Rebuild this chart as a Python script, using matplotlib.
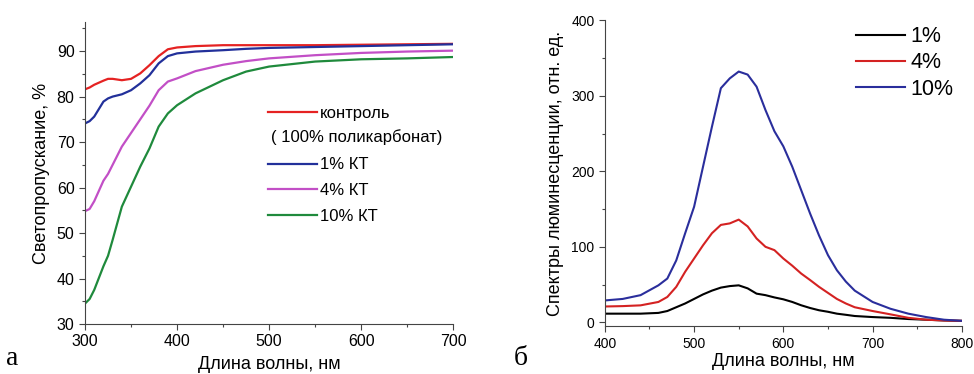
import matplotlib.pyplot as plt
from matplotlib.lines import Line2D
from matplotlib.ticker import MultipleLocator

plt.rcParams['font.family'] = ['Liberation Sans', 'DejaVu Sans']

# --- panel a: transmission ---
wl_a = [300, 305, 310, 320, 325, 330, 340, 350, 360, 370, 380, 390, 400, 420, 450, 475, 500, 550, 600, 650, 700]
control = [81.6, 82.0, 82.6, 83.5, 83.9, 83.9, 83.6, 83.9, 85.1, 86.9, 88.9, 90.4, 90.8, 91.1, 91.3, 91.3, 91.3, 91.3, 91.4, 91.5, 91.6]
kt1 = [74.1, 74.6, 75.6, 78.9, 79.6, 80.0, 80.5, 81.4, 82.9, 84.7, 87.3, 88.9, 89.5, 89.9, 90.2, 90.5, 90.7, 90.9, 91.1, 91.3, 91.5]
kt4 = [54.8, 55.3, 57.0, 61.5, 63.0, 65.0, 69.0, 72.0, 75.0, 78.0, 81.4, 83.3, 84.0, 85.6, 87.0, 87.8, 88.4, 89.1, 89.6, 89.9, 90.1]
kt10 = [34.5, 35.5, 37.5, 42.7, 45.0, 48.5, 55.8, 60.2, 64.6, 68.6, 73.4, 76.3, 78.1, 80.7, 83.6, 85.5, 86.6, 87.7, 88.2, 88.4, 88.7]

# --- panel b: luminescence ---
wl_b = [400, 420, 440, 460, 470, 480, 490, 500, 510, 520, 530, 540, 550, 560, 570, 580, 590, 600,
        610, 620, 630, 640, 650, 660, 670, 680, 700, 720, 740, 760, 780, 800]
lum1 = [11.5, 11.5, 11.5, 12.5, 15, 20, 25, 31, 37, 42, 46, 48, 49, 45, 38, 36, 33, 30.5,
        27, 22.6, 19, 16, 14, 11.5, 10, 8.4, 7, 6, 4.4, 3.5, 2.5, 2]
lum4 = [21, 21.5, 22.5, 27, 33.6, 47, 67, 84.5, 102, 118, 129, 131, 136, 127, 111, 100, 95.6, 84.5,
        75, 64.6, 56, 47, 39, 31, 25, 20, 15, 10.6, 6, 3.5, 2.5, 2]
lum10 = [29, 31, 36, 49, 58, 82, 118, 153, 206, 259, 310, 323, 332, 328, 312, 281, 253, 233,
         206, 175, 144, 115, 89, 69, 54, 42, 27, 18, 11.5, 7, 3.5, 2]

fig = plt.figure(figsize=(9.74, 3.74), dpi=100)

ax1 = fig.add_axes([0.0873, 0.1337, 0.378, 0.8075])
ax1.plot(wl_a, control, color='#e52222', lw=1.6)
ax1.plot(wl_a, kt1, color='#22309a', lw=1.6)
ax1.plot(wl_a, kt4, color='#c24fc6', lw=1.6)
ax1.plot(wl_a, kt10, color='#1f8a3c', lw=1.6)
ax1.set_xlim(300, 700)
ax1.set_ylim(30, 96.4)
ax1.xaxis.set_major_locator(MultipleLocator(100))
ax1.xaxis.set_minor_locator(MultipleLocator(50))
ax1.yaxis.set_major_locator(MultipleLocator(10))
ax1.yaxis.set_minor_locator(MultipleLocator(5))
ax1.set_xlabel('Длина волны, нм', fontsize=13, labelpad=5)
ax1.set_ylabel('Светопропускание, %', fontsize=13, labelpad=5)
ax1.tick_params(labelsize=11.5, length=4, width=0.8, color='#444444')
ax1.tick_params(which='minor', length=2, width=0.8, color='#444444')

handles = [Line2D([], [], color='#e52222', lw=1.6),
           Line2D([], [], color='none'),
           Line2D([], [], color='#22309a', lw=1.6),
           Line2D([], [], color='#c24fc6', lw=1.6),
           Line2D([], [], color='#1f8a3c', lw=1.6)]
labels = ['контроль', ' ', '1% КТ', '4% КТ', '10% КТ']
ax1.legend(handles, labels, loc='upper left', bbox_to_anchor=(0.475, 0.75), frameon=False,
           fontsize=12, handlelength=2.9, handletextpad=0.2, labelspacing=0.65, borderpad=0)
ax1.text(0.505, 0.62, '( 100% поликарбонат)', transform=ax1.transAxes, fontsize=12, va='center')

ax2 = fig.add_axes([0.621, 0.128, 0.3665, 0.818])
ax2.plot(wl_b, lum1, color='black', lw=1.5, label='1%')
ax2.plot(wl_b, lum4, color='#d42222', lw=1.5, label='4%')
ax2.plot(wl_b, lum10, color='#2a2e9c', lw=1.5, label='10%')
ax2.set_xlim(400, 800)
ax2.set_ylim(-5, 400)
ax2.xaxis.set_major_locator(MultipleLocator(100))
ax2.xaxis.set_minor_locator(MultipleLocator(50))
ax2.yaxis.set_major_locator(MultipleLocator(100))
ax2.yaxis.set_minor_locator(MultipleLocator(50))
ax2.set_xlabel('Длина волны, нм', fontsize=13, labelpad=2)
ax2.set_ylabel('Спектры люминесценции, отн. ед.', fontsize=13, labelpad=5)
ax2.tick_params(labelsize=10, length=4, width=0.8, color='#444444')
ax2.tick_params(which='minor', length=2, width=0.8, color='#444444')
ax2.legend(loc='upper left', bbox_to_anchor=(0.672, 1.016), frameon=False, fontsize=15.5,
           handlelength=2.3, handletextpad=0.25, labelspacing=0.25, borderpad=0)

for ax in (ax1, ax2):
    ax.spines['top'].set_visible(False)
    ax.spines['right'].set_visible(False)
    ax.spines['left'].set_color('#444444')
    ax.spines['bottom'].set_color('#444444')

fig.text(0.006, 0.025, 'а', fontsize=20, family='Liberation Serif')
fig.text(0.527, 0.025, 'б', fontsize=20, family='Liberation Serif')

fig.savefig('out.png', dpi=100)
